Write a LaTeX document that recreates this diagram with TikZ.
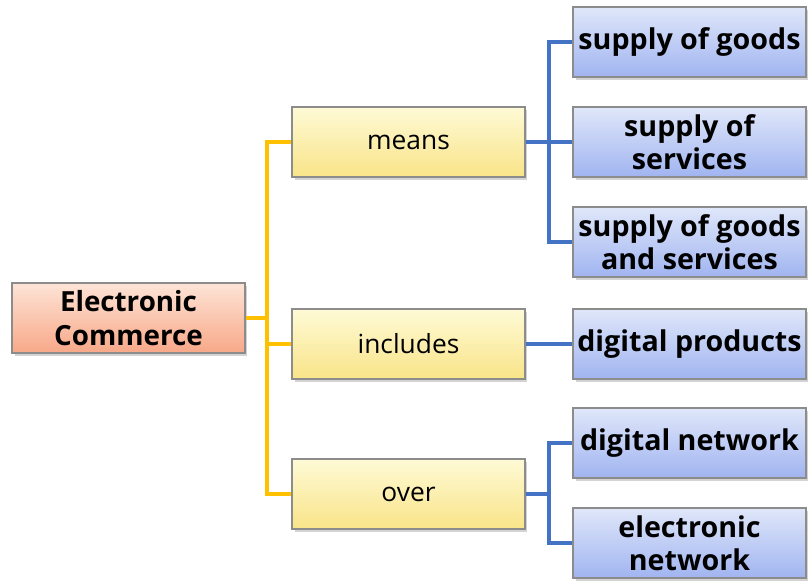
\documentclass[tikz,border=0pt]{standalone}
\usepackage{fontspec}
\setmainfont{Open Sans}
\usetikzlibrary{shadows}
\definecolor{trunkyellow}{HTML}{FFC000}
\definecolor{trunkblue}{HTML}{4472C4}
\tikzset{
  box/.style={draw=black!45, line width=0.6pt, minimum width=4.66cm, minimum height=1.4cm,
    align=center, inner sep=1pt, drop shadow={opacity=0.35, shadow xshift=0.5mm, shadow yshift=-0.6mm}},
  rootbox/.style={box, top color={rgb,255:red,253;green,228;blue,214}, bottom color={rgb,255:red,248;green,168;blue,136},
    font=\fontsize{15.8}{19.5}\selectfont\bfseries},
  midbox/.style={box, top color={rgb,255:red,254;green,250;blue,214}, bottom color={rgb,255:red,249;green,228;blue,136},
    font=\fontsize{15}{19}\selectfont},
  leafbox/.style={box, top color={rgb,255:red,224;green,231;blue,250}, bottom color={rgb,255:red,160;green,180;blue,240},
    font=\fontsize{16.3}{19}\selectfont\bfseries},
  ylink/.style={trunkyellow, line width=2.2pt},
  blink/.style={trunkblue, line width=2.2pt}
}
\begin{document}
\begin{tikzpicture}[x=0.02cm, y=-0.02cm]
  \useasboundingbox (0,0) rectangle (809,582);
  \node [rootbox] (ec) at (128.5,318) {Electronic\\Commerce};
  \node [midbox] (means) at (408.5,142) {means};
  \node [midbox] (incl) at (408.5,344) {includes};
  \node [midbox] (over) at (408.5,494) {over};
  \node [leafbox] (goods) at (689.5,42) {supply of goods};
  \node [leafbox] (serv) at (689.5,142) {supply of\\services};
  \node [leafbox] (both) at (689.5,242) {supply of goods\\and services};
  \node [leafbox] (digprod) at (689.5,344) {digital products};
  \node [leafbox] (dignet) at (689.5,443) {digital network};
  \node [leafbox] (elnet) at (689.5,543) {electronic\\network};
  \coordinate (yj) at (267,318);
  \coordinate (bj1) at (549,142);
  \coordinate (bj3) at (549,494);
  \draw [ylink] (ec.east) -- (yj);
  \draw [ylink] (means.west) -| (yj) |- (over.west);
  \draw [ylink] (yj) |- (incl.west);
  \draw [blink] (means.east) -- (bj1);
  \draw [blink] (goods.west) -| (bj1) |- (both.west);
  \draw [blink] (bj1) -- (serv.west);
  \draw [blink] (incl.east) -- (digprod.west);
  \draw [blink] (over.east) -- (bj3);
  \draw [blink] (dignet.west) -| (bj3) |- (elnet.west);
\end{tikzpicture}
\end{document}
